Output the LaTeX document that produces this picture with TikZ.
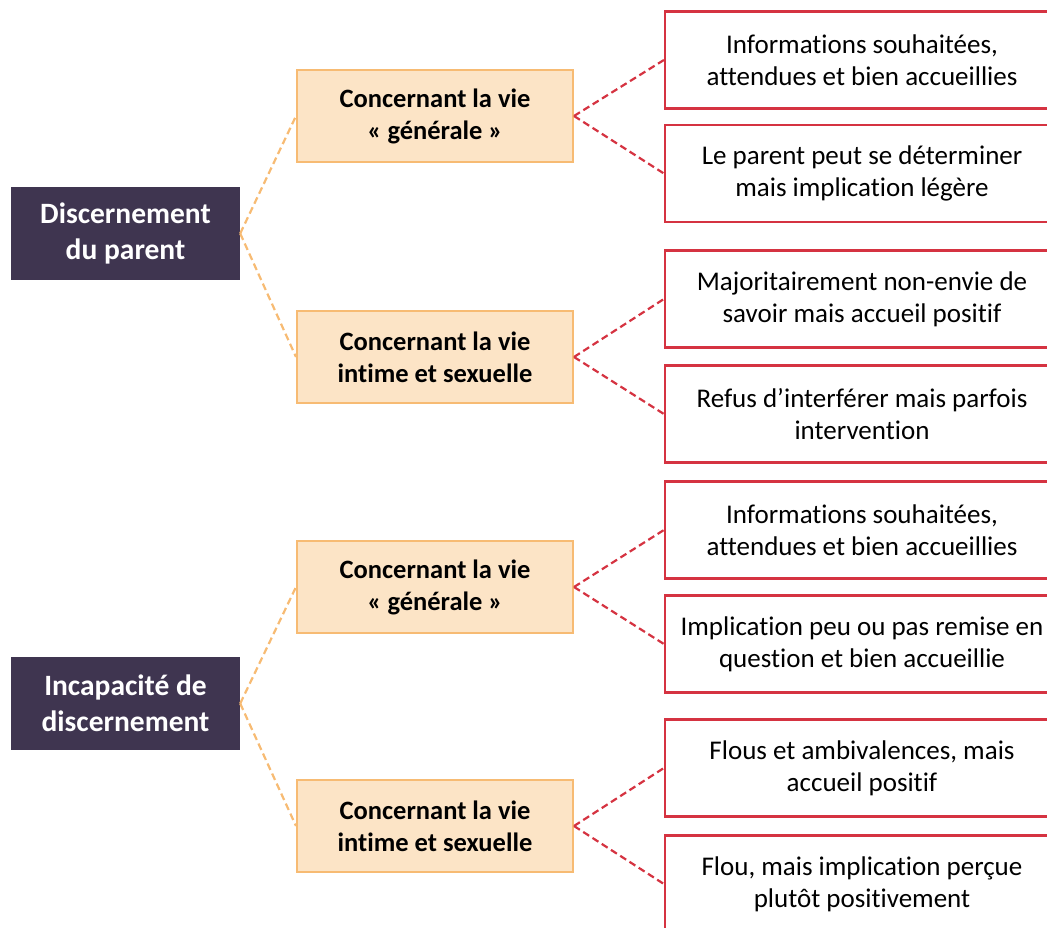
\documentclass[tikz,border=0pt]{standalone}
\usepackage{fontspec}
\setmainfont[Ligatures=NoCommon]{Carlito}
\definecolor{plum}{HTML}{3F3550}
\definecolor{peach}{HTML}{FCE4C6}
\definecolor{peachline}{HTML}{F7BB73}
\definecolor{redline}{HTML}{D53341}
\tikzset{
  txt/.style={font=\fontsize{27}{32}\selectfont, align=center, inner sep=0pt},
  rootbox/.style={txt, fill=plum, text=white, font=\bfseries\fontsize{29.5}{36}\selectfont,
    minimum width=229pt, minimum height=93pt},
  topicbox/.style={txt, fill=peach, draw=peachline, line width=2pt, font=\bfseries\fontsize{26.5}{32}\selectfont,
    minimum width=276pt, minimum height=92pt},
  leafbox/.style={txt, draw=redline, line width=2.2pt, fill=white,
    minimum width=394pt, minimum height=97pt},
  peachlink/.style={draw=peachline, line width=2.2pt, dash pattern=on 7pt off 4pt},
  redlink/.style={draw=redline, line width=2.2pt, dash pattern=on 7pt off 4pt},
}
\begin{document}
\begin{tikzpicture}[x=1pt,y=-1pt]
\useasboundingbox (0,0) rectangle (1047,928);
\clip (0,0) rectangle (1047,928);

% first-level boxes
\node[rootbox] (r1) at (125.5,233.5) {Discernement\\du parent};
\node[rootbox] (r2) at (125.5,703.5) {Incapacité de\\discernement};

% second-level boxes
\node[topicbox] (t1) at (435,116) {Concernant la vie\\« générale »};
\node[topicbox] (t2) at (435,357) {Concernant la vie\\intime et sexuelle};
\node[topicbox] (t3) at (435,587) {Concernant la vie\\« générale »};
\node[topicbox] (t4) at (435,826) {Concernant la vie\\intime et sexuelle};

% third-level boxes
\node[leafbox] (f1) at (862,60) {Informations souhaitées,\\attendues et bien accueillies};
\node[leafbox] (f2) at (862,173.5) {Le parent peut se déterminer\\mais implication légère};
\node[leafbox] (f3) at (862,299) {Majoritairement non-envie de\\savoir mais accueil positif};
\node[leafbox] (f4) at (862,414) {Refus d’interférer mais parfois\\intervention};
\node[leafbox] (f5) at (862,530) {Informations souhaitées,\\attendues et bien accueillies};
\node[leafbox] (f6) at (862,644) {Implication peu ou pas remise en\\question et bien accueillie};
\node[leafbox] (f7) at (862,768) {Flous et ambivalences, mais\\accueil positif};
\node[leafbox] (f8) at (862,884) {Flou, mais implication perçue\\plutôt positivement};

% connectors
\draw[peachlink] (r1.east) -- (t1.west);
\draw[peachlink] (r1.east) -- (t2.west);
\draw[peachlink] (r2.east) -- (t3.west);
\draw[peachlink] (r2.east) -- (t4.west);

\draw[redlink] (t1.east) -- (f1.west);
\draw[redlink] (t1.east) -- (f2.west);
\draw[redlink] (t2.east) -- (f3.west);
\draw[redlink] (t2.east) -- (f4.west);
\draw[redlink] (t3.east) -- (f5.west);
\draw[redlink] (t3.east) -- (f6.west);
\draw[redlink] (t4.east) -- (f7.west);
\draw[redlink] (t4.east) -- (f8.west);
\end{tikzpicture}
\end{document}
